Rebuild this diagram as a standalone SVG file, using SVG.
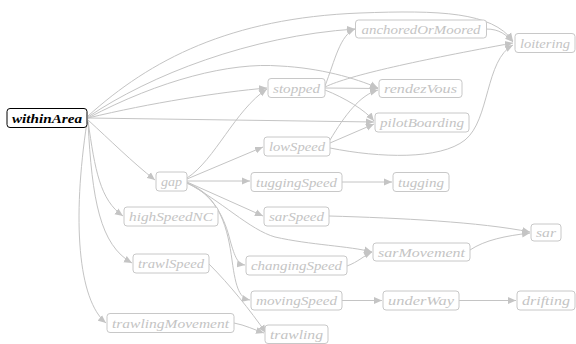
<svg xmlns="http://www.w3.org/2000/svg" width="576" height="344" viewBox="0 0 576 344">
<style>
.n rect{fill:#fff;stroke:#c8c8c8;stroke-width:1}
.n text{fill:#c4c4c4;font-family:"Liberation Serif","DejaVu Serif",serif;font-style:italic;font-size:13px;text-anchor:middle;dominant-baseline:central}
#withinArea rect{stroke:#000}
#withinArea text{fill:#000;font-weight:bold}
#edges path{fill:none;stroke:#c4c4c4;stroke-width:1;marker-end:url(#ah)}
</style>
<defs>
<marker id="ah" markerUnits="userSpaceOnUse" markerWidth="9" markerHeight="8" refX="8" refY="4" orient="auto">
<path d="M0,0.5 L8,4 L0,7.5 Z" fill="#c4c4c4"/>
</marker>
</defs>
<rect width="576" height="344" fill="#fff"/>
<g id="edges">
<path d="M88,116 C150,60 230,18 360,13 C440,10 492,12 513,41"/>
<path d="M88,117 C150,75 250,36 355,29"/>
<path d="M88,118 C160,80 230,62 280,66 C320,68 355,78 378,88"/>
<path d="M88,118 C150,103 220,92 267,88"/>
<path d="M88,118 L374,122"/>
<path d="M88,120 C110,140 132,162 155,180"/>
<path d="M88,121 C95,170 100,200 123,216"/>
<path d="M88,122 C92,200 100,245 132,263"/>
<path d="M87,122 C72,220 78,300 106,323"/>
<path d="M187,178 C215,160 235,110 267,89"/>
<path d="M187,179 L263,147"/>
<path d="M187,181 L250,181"/>
<path d="M187,182 L263,216"/>
<path d="M187,183 C220,200 250,230 275,237 C310,245 350,246 372,252"/>
<path d="M187,183 C215,195 225,220 230,240 C235,258 238,264 245,265"/>
<path d="M187,183 C220,195 228,230 232,260 C236,290 240,298 250,300"/>
<path d="M325,86 C335,60 340,35 355,29"/>
<path d="M325,87 C350,75 420,60 513,43"/>
<path d="M325,88 L378,88.5"/>
<path d="M325,90 C345,98 365,110 374,121"/>
<path d="M330,140 C345,115 360,95 378,90"/>
<path d="M330,143 L374,124"/>
<path d="M330,148 C380,158 440,160 465,140 C490,120 485,60 513,45"/>
<path d="M486,29 C500,29 506,35 513,42"/>
<path d="M342,182 L392,182"/>
<path d="M329,216 C400,218 480,222 530,232"/>
<path d="M347,266 C358,262 365,255 372,252"/>
<path d="M470,250 C485,240 505,236 530,233"/>
<path d="M342,300.5 L382,300.5"/>
<path d="M459,300.5 L516,300.5"/>
<path d="M209,264 C230,285 250,310 266,333"/>
<path d="M234,323 C245,325 255,330 264,333"/>
</g>
<g id="withinArea" class="n"><rect x="7" y="108.5" width="80" height="19" rx="3"/><text x="47" y="118" textLength="70" lengthAdjust="spacingAndGlyphs">withinArea</text></g>
<g id="anchoredOrMoored" class="n"><rect x="355.5" y="20" width="131" height="18" rx="3"/><text x="421" y="29" textLength="119" lengthAdjust="spacingAndGlyphs">anchoredOrMoored</text></g>
<g id="loitering" class="n"><rect x="515" y="33.5" width="60" height="19" rx="3"/><text x="545" y="43" textLength="50" lengthAdjust="spacingAndGlyphs">loitering</text></g>
<g id="stopped" class="n"><rect x="268" y="78.5" width="57" height="19" rx="3"/><text x="296.5" y="88" textLength="47" lengthAdjust="spacingAndGlyphs">stopped</text></g>
<g id="rendezVous" class="n"><rect x="379" y="79.5" width="83" height="18" rx="3"/><text x="420.5" y="88.5" textLength="73" lengthAdjust="spacingAndGlyphs">rendezVous</text></g>
<g id="pilotBoarding" class="n"><rect x="375" y="113" width="94" height="19" rx="3"/><text x="422" y="122.5" textLength="84" lengthAdjust="spacingAndGlyphs">pilotBoarding</text></g>
<g id="lowSpeed" class="n"><rect x="264" y="137" width="66" height="19" rx="3"/><text x="297" y="146.5" textLength="56" lengthAdjust="spacingAndGlyphs">lowSpeed</text></g>
<g id="gap" class="n"><rect x="156" y="172" width="31" height="19" rx="3"/><text x="171.5" y="181.5" textLength="21" lengthAdjust="spacingAndGlyphs">gap</text></g>
<g id="tuggingSpeed" class="n"><rect x="251" y="172.5" width="91" height="19" rx="3"/><text x="296.5" y="182" textLength="81" lengthAdjust="spacingAndGlyphs">tuggingSpeed</text></g>
<g id="tugging" class="n"><rect x="393" y="172.5" width="56" height="19" rx="3"/><text x="421" y="182" textLength="46" lengthAdjust="spacingAndGlyphs">tugging</text></g>
<g id="highSpeedNC" class="n"><rect x="124" y="207" width="94" height="19" rx="3"/><text x="171" y="216.5" textLength="84" lengthAdjust="spacingAndGlyphs">highSpeedNC</text></g>
<g id="sarSpeed" class="n"><rect x="264" y="207" width="65" height="19" rx="3"/><text x="296.5" y="216.5" textLength="55" lengthAdjust="spacingAndGlyphs">sarSpeed</text></g>
<g id="sar" class="n"><rect x="531" y="224" width="30" height="17" rx="3"/><text x="546" y="232.5" textLength="20" lengthAdjust="spacingAndGlyphs">sar</text></g>
<g id="sarMovement" class="n"><rect x="373" y="243" width="97" height="18" rx="3"/><text x="421.5" y="252" textLength="87" lengthAdjust="spacingAndGlyphs">sarMovement</text></g>
<g id="trawlSpeed" class="n"><rect x="133" y="254" width="76" height="19" rx="3"/><text x="171" y="263.5" textLength="66" lengthAdjust="spacingAndGlyphs">trawlSpeed</text></g>
<g id="changingSpeed" class="n"><rect x="246" y="256" width="101" height="19" rx="3"/><text x="296.5" y="265.5" textLength="91" lengthAdjust="spacingAndGlyphs">changingSpeed</text></g>
<g id="movingSpeed" class="n"><rect x="251" y="291" width="91" height="19" rx="3"/><text x="296.5" y="300.5" textLength="81" lengthAdjust="spacingAndGlyphs">movingSpeed</text></g>
<g id="underWay" class="n"><rect x="383" y="291" width="76" height="19" rx="3"/><text x="421" y="300.5" textLength="66" lengthAdjust="spacingAndGlyphs">underWay</text></g>
<g id="drifting" class="n"><rect x="517" y="291" width="58" height="19" rx="3"/><text x="546" y="300.5" textLength="48" lengthAdjust="spacingAndGlyphs">drifting</text></g>
<g id="trawlingMovement" class="n"><rect x="107" y="313.5" width="127" height="19" rx="3"/><text x="170.5" y="323" textLength="117" lengthAdjust="spacingAndGlyphs">trawlingMovement</text></g>
<g id="trawling" class="n"><rect x="265" y="325" width="63" height="18.5" rx="3"/><text x="296.5" y="334.5" textLength="53" lengthAdjust="spacingAndGlyphs">trawling</text></g>
</svg>
